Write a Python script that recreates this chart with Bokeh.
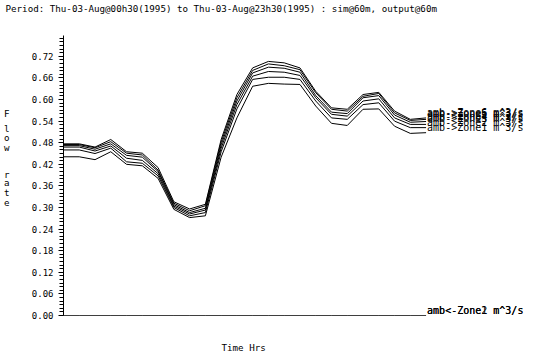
from bokeh.plotting import figure
from bokeh.models import (Range1d, NumeralTickFormatter, SingleIntervalTicker, FixedTicker,
                          ColumnDataSource, LinearAxis, Title)
from bokeh.embed import file_html
from bokeh.resources import INLINE
from bokeh.core.properties import value

# ---------------- data ----------------
hours = list(range(24))  # 00h30 .. 23h30

flow_a = [0.477, 0.477, 0.468, 0.489, 0.455, 0.451, 0.411, 0.316, 0.296, 0.309, 0.489, 0.614,
          0.688, 0.706, 0.702, 0.688, 0.623, 0.577, 0.573, 0.614, 0.620, 0.568, 0.545, 0.549]
flow_b = [0.475, 0.475, 0.466, 0.483, 0.451, 0.446, 0.404, 0.312, 0.291, 0.305, 0.482, 0.605,
          0.681, 0.699, 0.694, 0.683, 0.619, 0.573, 0.568, 0.609, 0.617, 0.563, 0.542, 0.545]
flow_c = [0.472, 0.472, 0.462, 0.477, 0.445, 0.440, 0.400, 0.308, 0.286, 0.298, 0.474, 0.596,
          0.674, 0.690, 0.687, 0.676, 0.611, 0.565, 0.561, 0.605, 0.611, 0.557, 0.537, 0.539]
flow_d = [0.468, 0.468, 0.457, 0.471, 0.437, 0.431, 0.394, 0.304, 0.282, 0.293, 0.465, 0.586,
          0.665, 0.678, 0.676, 0.667, 0.605, 0.559, 0.554, 0.596, 0.602, 0.549, 0.531, 0.531]
flow_e = [0.460, 0.460, 0.450, 0.465, 0.427, 0.423, 0.388, 0.300, 0.277, 0.286, 0.455, 0.574,
          0.656, 0.662, 0.662, 0.656, 0.596, 0.549, 0.545, 0.586, 0.591, 0.540, 0.522, 0.522]
flow_f = [0.441, 0.441, 0.433, 0.455, 0.420, 0.416, 0.381, 0.295, 0.272, 0.277, 0.440, 0.549,
          0.637, 0.645, 0.643, 0.642, 0.582, 0.534, 0.528, 0.573, 0.574, 0.526, 0.506, 0.508]
flow_back1 = [0.0, 0.0, 0.0, 0.0, 0.0, 0.0, 0.0, 0.0, 0.0, 0.0, 0.0, 0.0,
              0.0, 0.0, 0.0, 0.0, 0.0, 0.0, 0.0, 0.0, 0.0, 0.0, 0.0, 0.0]
flow_back2 = [0.0, 0.0, 0.0, 0.0, 0.0, 0.0, 0.0, 0.0, 0.0, 0.0, 0.0, 0.0,
              0.0, 0.0, 0.0, 0.0, 0.0, 0.0, 0.0, 0.0, 0.0, 0.0, 0.0, 0.0]

series = [flow_a, flow_b, flow_c, flow_d, flow_e, flow_f, flow_back1, flow_back2]
names = ["amb->Zone6 m^3/s", "amb->Zone5 m^3/s", "amb->Zone4 m^3/s", "amb->Zone3 m^3/s",
         "amb->Zone2 m^3/s", "amb->Zone1 m^3/s", "amb<-Zone1 m^3/s", "amb<-Zone2 m^3/s"]

title_text = "Period: Thu-03-Aug@00h30(1995) to Thu-03-Aug@23h30(1995) : sim@60m, output@60m"
x_title = "Time Hrs"
y_title = "Flow rate"

MONO = "DejaVu Sans Mono"

# ---------------- figure ----------------
p = figure(width=560, height=359, output_backend="svg", toolbar_location=None,
           x_range=Range1d(0, 31.21), y_range=Range1d(0, 0.778),
           x_axis_location=None, min_border_left=61, min_border_right=5,
           min_border_top=34, min_border_bottom=44, title=None)
p.outline_line_color = None
p.xgrid.visible = False
p.ygrid.visible = False
p.background_fill_color = "white"
p.border_fill_color = "white"

ax = p.yaxis[0]
ax.ticker = SingleIntervalTicker(interval=0.06, num_minor_ticks=6)
ax.formatter = NumeralTickFormatter(format="0.00")
ax.axis_line_color = "black"
ax.major_tick_line_color = "black"
ax.minor_tick_line_color = "black"
ax.major_tick_in = 0
ax.major_tick_out = 5
ax.minor_tick_in = 0
ax.minor_tick_out = 4
ax.major_label_standoff = 5
ax.major_label_text_font = MONO
ax.major_label_text_font_size = "9px"
ax.major_label_text_color = "black"

for s in series:
    p.line(hours, s, line_color="black", line_width=1)

lab_src = ColumnDataSource(dict(x=[hours[-1]] * len(series),
                                y=[s[-1] for s in series],
                                t=names))
p.text(x="x", y="y", text="t", source=lab_src, text_font=value(MONO),
       text_font_size="10px", text_baseline="bottom", text_align="left",
       text_color="black", x_offset=1)

def title_box(text, **kw):
    return Title(text=text, text_font=MONO, text_font_size="9.2px",
                 text_font_style="normal", text_color="black", **kw)

# top: spacer (nearest the frame) then the period title
p.add_layout(title_box(" ", standoff=9), "above")
p.add_layout(title_box(title_text, align="left", offset=-58, standoff=0), "above")
# bottom: spacer then "Time Hrs"
p.add_layout(title_box(" ", standoff=11), "below")
p.add_layout(title_box(x_title, align="left", offset=158, standoff=0), "below")

# stacked "Flow rate" letters as an extra left axis (pixel-height range)
p.extra_y_ranges = {"letters": Range1d(0, 281)}
letter_pos = [203, 188, 179, 169, 142, 133, 123, 113]
letters = [c for c in y_title if c != " "]
lax = LinearAxis(y_range_name="letters", ticker=FixedTicker(ticks=letter_pos),
                 major_label_overrides={t: c for t, c in zip(letter_pos, letters)},
                 axis_line_color=None, major_tick_line_color=None, minor_tick_line_color=None,
                 major_label_standoff=13, major_label_text_font=MONO,
                 major_label_text_font_size="9.2px", major_label_text_color="black")
p.add_layout(lax, "left")

open("out.html", "w").write(file_html(p, INLINE))
